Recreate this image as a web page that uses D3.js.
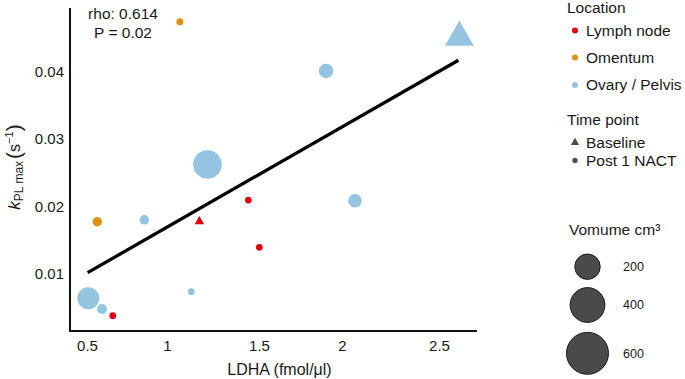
<!DOCTYPE html>
<html>
<head>
<meta charset="utf-8">
<script src="https://cdn.jsdelivr.net/npm/d3@7"></script>
<style>
  body { margin: 0; background: #fff; }
  svg { display: block; font-family: "Liberation Sans", Arial, sans-serif; }
</style>
</head>
<body>
<div id="chart-area"></div>
<script>
// data
var ldha     = [1.07, 1.22, 0.564, 0.858, 1.176, 1.442, 1.132, 0.508, 0.594, 0.661, 1.904, 1.502, 2.067, 2.605];
var kpl      = [0.0474, 0.02625, 0.01775, 0.01804, 0.01778, 0.02096, 0.00738, 0.0064, 0.00481, 0.00382, 0.04012, 0.01396, 0.02086, 0.0451];
var site     = ["Omentum", "Ovary / Pelvis", "Omentum", "Ovary / Pelvis", "Lymph node", "Lymph node", "Ovary / Pelvis",
                "Ovary / Pelvis", "Ovary / Pelvis", "Lymph node", "Ovary / Pelvis", "Lymph node", "Ovary / Pelvis", "Ovary / Pelvis"];
var timepoint = ["Post 1 NACT", "Post 1 NACT", "Post 1 NACT", "Post 1 NACT", "Baseline", "Post 1 NACT", "Post 1 NACT",
                 "Post 1 NACT", "Post 1 NACT", "Post 1 NACT", "Post 1 NACT", "Post 1 NACT", "Post 1 NACT", "Baseline"];
var volume   = [7, 260, 17, 17, 7, 6, 6, 144, 20, 6, 54, 6, 45, 137];

// fitted line end points
var fitX = [0.504, 2.6];
var fitY = [0.0102, 0.0417];

var locations = ["Lymph node", "Omentum", "Ovary / Pelvis"];
var locColors = ["#e3000f", "#dc900e", "#94c4df"];
var timepoints = ["Baseline", "Post 1 NACT"];
var xTicks = [0.5, 1, 1.5, 2, 2.5];
var yTicks = [0.01, 0.02, 0.03, 0.04];
var volTicks = [200, 400, 600];

var width = 685, height = 379;

var svg = d3.select("#chart-area")
  .append("svg")
    .attr("width", width)
    .attr("height", height);

// x labels in the figure are not evenly spaced, so a polylinear scale
var x = d3.scaleLinear()
  .domain(xTicks)
  .range([87, 167, 259, 342, 439]);

var y = d3.scaleLinear()
  .domain([0.00155, 0.04945])
  .range([331, 8]);

var color = d3.scaleOrdinal().domain(locations).range(locColors);
var shape = d3.scaleOrdinal().domain(timepoints).range([d3.symbolTriangle, d3.symbolCircle]);
var radius = d3.scaleSqrt().domain([0, 600]).range([1.4, 21]);

var points = ldha.map(function(d, i) {
  return { x: d, y: kpl[i], loc: site[i], time: timepoint[i], vol: volume[i] };
});

// axes
var xAxisGroup = svg.append("g")
  .attr("transform", "translate(0," + 331 + ")")
  .call(d3.axisBottom(x).tickValues(xTicks).tickSize(0).tickPadding(9).tickFormat(d3.format("")));

var yAxisGroup = svg.append("g")
  .attr("transform", "translate(70,0)")
  .call(d3.axisLeft(y).tickValues(yTicks).tickSize(0).tickPadding(6).tickFormat(d3.format("")));

svg.selectAll(".domain").remove();
svg.selectAll(".tick text")
  .attr("font-size", "15px")
  .attr("font-family", "Liberation Sans, Arial, sans-serif")
  .attr("fill", "#1a1a1a");

svg.append("line")
  .attr("x1", 70).attr("x2", 70)
  .attr("y1", 8).attr("y2", 332)
  .attr("stroke", "#111").attr("stroke-width", 2);

svg.append("line")
  .attr("x1", 69).attr("x2", 477)
  .attr("y1", 331).attr("y2", 331)
  .attr("stroke", "#111").attr("stroke-width", 2);

// points, biggest first so small ones stay visible
svg.append("g")
  .selectAll("path")
  .data(points.slice().sort(function(a, b) { return b.vol - a.vol; }))
  .enter().append("path")
    .attr("transform", function(d) { return "translate(" + x(d.x) + "," + y(d.y) + ")"; })
    .attr("d", function(d) {
      var r = radius(d.vol);
      return d3.symbol().type(shape(d.time)).size(Math.PI * r * r)();
    })
    .attr("fill", function(d) { return color(d.loc); });

// regression line
var line = d3.line()
  .x(function(d) { return x(d[0]); })
  .y(function(d) { return y(d[1]); });

svg.append("path")
  .datum(fitX.map(function(d, i) { return [d, fitY[i]]; }))
  .attr("d", line)
  .attr("fill", "none")
  .attr("stroke", "#000")
  .attr("stroke-width", 3.3);

// stats
svg.append("text")
  .attr("x", 123).attr("y", 18.5)
  .attr("text-anchor", "middle")
  .attr("font-size", "15.5px")
  .attr("fill", "#1a1a1a")
  .text("rho: 0.614");

svg.append("text")
  .attr("x", 123).attr("y", 37.5)
  .attr("text-anchor", "middle")
  .attr("font-size", "15.5px")
  .attr("fill", "#1a1a1a")
  .text("P = 0.02");

// X Label
svg.append("text")
  .attr("x", 279.5).attr("y", 375)
  .attr("text-anchor", "middle")
  .attr("font-size", "16px")
  .attr("fill", "#1a1a1a")
  .text("LDHA (fmol/\u03bcl)");

// Y Label
var yLab = svg.append("text")
  .attr("transform", "translate(20,167) rotate(-90)")
  .attr("text-anchor", "middle")
  .attr("fill", "#1a1a1a");
yLab.append("tspan").attr("font-size", "17px").attr("font-style", "italic").text("k");
yLab.append("tspan").attr("font-size", "12px").attr("dy", 3).text("PL max");
yLab.append("tspan").attr("font-size", "21px").attr("dy", -2).attr("dx", 2).text("(");
yLab.append("tspan").attr("font-size", "16px").attr("dy", -1).text("s");
yLab.append("tspan").attr("font-size", "11px").attr("dy", -7).text("\u22121");
yLab.append("tspan").attr("font-size", "21px").attr("dy", 8).text(")");

// legend: location
var legend = svg.append("g").attr("font-size", "15.5px").attr("fill", "#1a1a1a");
legend.append("text").attr("x", 567).attr("y", 13).text("Location");

var locY = [30.5, 57.5, 85];
locations.forEach(function(l, i) {
  legend.append("circle")
    .attr("cx", 575).attr("cy", locY[i]).attr("r", 3)
    .attr("fill", color(l));
  legend.append("text")
    .attr("x", 586).attr("y", locY[i]).attr("dy", "0.35em")
    .text(l);
});

// legend: time point
legend.append("text").attr("x", 567).attr("y", 125).text("Time point");
var timeY = [142.5, 160.5];
timepoints.forEach(function(t, i) {
  legend.append("path")
    .attr("transform", "translate(575," + timeY[i] + ")")
    .attr("d", d3.symbol().type(shape(t)).size(t === "Baseline" ? 30 : 22)())
    .attr("fill", "#4d4d4d");
  legend.append("text")
    .attr("x", 586).attr("y", timeY[i]).attr("dy", "0.35em")
    .text(t);
});

// legend: volume
legend.append("text").attr("x", 569).attr("y", 235).text("Vomume cm\u00b3");
var volY = [266.7, 305, 353.3];
volTicks.forEach(function(v, i) {
  legend.append("circle")
    .attr("cx", 587.5).attr("cy", volY[i]).attr("r", radius(v))
    .attr("fill", "#4a4a4a")
    .attr("stroke", "#1a1a1a")
    .attr("stroke-width", 1);
  legend.append("text")
    .attr("x", 623).attr("y", volY[i]).attr("dy", "0.35em")
    .attr("font-size", "12.5px")
    .text(v);
});
</script>
</body>
</html>
